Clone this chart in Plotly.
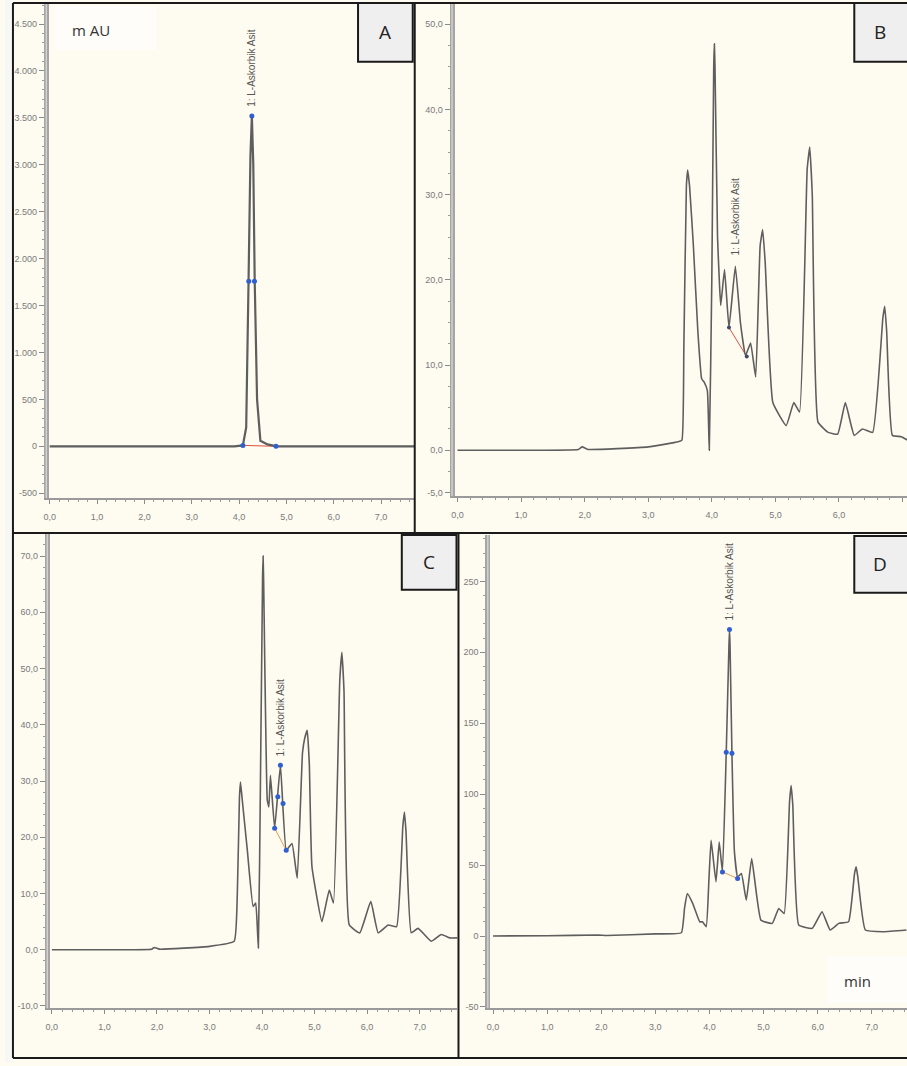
import plotly.graph_objects as go

W, H = 907, 1066

# ---------------- data ----------------
# Panel A (mAU)
tA = [0, 3.9, 4.08, 4.15, 4.20, 4.24, 4.27, 4.30, 4.33, 4.38, 4.45, 4.6, 4.8, 7.75]
vA = [0, 0, 10, 200, 1760, 3100, 3520, 3000, 1760, 500, 60, 20, 0, 0]
mkA_t = [4.27, 4.205, 4.325, 4.08, 4.78]
mkA_v = [3520, 1760, 1760, 10, 0]
blA_t = [4.08, 4.78]
blA_v = [10, 0]

# Panel B
tB = [0, 1.0, 1.9, 1.96, 2.05, 3.0, 3.47, 3.53, 3.56, 3.60, 3.62, 3.65, 3.71, 3.78, 3.84, 3.88, 3.93, 3.96,
      4.0, 4.03, 4.04, 4.05, 4.09, 4.12, 4.14, 4.20, 4.27, 4.37, 4.45, 4.53, 4.61, 4.69, 4.76, 4.80, 4.84, 4.96, 5.17,
      5.29, 5.38, 5.50, 5.54, 5.58, 5.67, 5.83, 5.98, 6.10, 6.24, 6.37, 6.53, 6.69, 6.72, 6.75, 6.84, 6.98, 7.08]
vB = [0, 0, 0.1, 0.4, 0.1, 0.4, 1.0, 1.2, 12, 31, 32.9, 31, 24, 14, 8.4, 8.0, 7.0, 0,
      20, 45, 47.7, 45, 25, 19.6, 17.0, 21.2, 14.4, 21.6, 15, 11.1, 12.6, 8.6, 24, 25.9, 22, 5.6, 2.9,
      5.6, 4.5, 33, 35.6, 30, 3.3, 2.1, 1.9, 5.6, 1.75, 2.5, 2.1, 15.5, 16.9, 14, 1.75, 1.6, 1.2]
blB_t = [4.27, 4.55]
blB_v = [14.4, 11.0]

# Panel C
tC = [0, 1.0, 1.9, 1.95, 2.05, 3.0, 3.47, 3.53, 3.57, 3.59, 3.62, 3.72, 3.83, 3.88, 3.93, 3.97, 4.01, 4.02, 4.03,
      4.10, 4.13, 4.16, 4.24, 4.35, 4.46, 4.57, 4.67, 4.77, 4.81, 4.86, 4.90, 4.95, 5.14, 5.28, 5.36,
      5.48, 5.52, 5.56, 5.66, 5.86, 6.07, 6.21, 6.40, 6.56, 6.68, 6.71, 6.74, 6.84, 6.97, 7.22, 7.41, 7.57, 7.72]
vC = [0, 0, 0.1, 0.4, 0.1, 0.6, 1.5, 10, 27, 29.8, 27, 17.7, 7.7, 8.3, 0.3, 30, 66, 70, 66,
      26.6, 25.4, 31, 21.6, 32.8, 17.7, 18.9, 12.7, 35, 37.5, 39, 33, 14.8, 5, 10.6, 8.3,
      48, 52.9, 46, 4.4, 3.0, 8.6, 3.0, 4.4, 4.1, 22, 24.5, 21, 3.0, 3.8, 1.5, 2.7, 2.1, 2.1]
mkC_t = [4.24, 4.35, 4.30, 4.40, 4.46]
mkC_v = [21.6, 32.8, 27.2, 26.0, 17.7]
blC_t = [4.24, 4.46]
blC_v = [21.6, 17.7]

# Panel D
tD = [0, 1.0, 1.95, 2.1, 3.0, 3.48, 3.54, 3.59, 3.69, 3.82, 3.87, 3.94, 3.99, 4.03, 4.12,
      4.18, 4.24, 4.31, 4.36, 4.37, 4.38, 4.415, 4.46, 4.52, 4.59, 4.68, 4.78, 4.95, 5.16, 5.28, 5.38,
      5.48, 5.51, 5.54, 5.65, 5.90, 6.08, 6.23, 6.39, 6.57, 6.68, 6.71, 6.74, 6.88, 7.21, 7.64]
vD = [0, 0.2, 0.7, 0.4, 1.5, 2.3, 20, 30, 23, 10, 10, 6.6, 40, 67.4, 38.2,
      66.3, 45.2, 129.5, 205, 216, 205, 128.8, 60, 41.7, 44, 25.3, 54.6, 11.2, 8.9, 19.4, 15.9,
      95, 106, 92, 7.7, 5.4, 17.1, 4.2, 8.9, 10, 44, 48.7, 42, 4.2, 3.0, 4.2]
mkD_t = [4.37, 4.31, 4.415, 4.24, 4.52]
mkD_v = [216, 129.5, 128.8, 45.2, 40.5]
blD_t = [4.24, 4.52]
blD_v = [45.2, 40.5]

x_ticks = [0, 1, 2, 3, 4, 5, 6, 7]
x_ticktext = ["0,0", "1,0", "2,0", "3,0", "4,0", "5,0", "6,0", "7,0"]
yA_ticks = [-500, 0, 500, 1000, 1500, 2000, 2500, 3000, 3500, 4000, 4500]
yA_text = ["-500", "0", "500", "1.000", "1.500", "2.000", "2.500", "3.000", "3.500", "4.000", "4.500"]
yB_ticks = [-5, 0, 10, 20, 30, 40, 50]
yB_text = ["-5,0", "0,0", "10,0", "20,0", "30,0", "40,0", "50,0"]
yC_ticks = [-10, 0, 10, 20, 30, 40, 50, 60, 70]
yC_text = ["-10,0", "0,0", "10,0", "20,0", "30,0", "40,0", "50,0", "60,0", "70,0"]
yD_ticks = [-50, 0, 50, 100, 150, 200, 250]
yD_text = ["-50", "0", "50", "100", "150", "200", "250"]

peak_label = "1: L-Askorbik Asit"
panel_letters = ["A", "B", "C", "D"]

# ---------------- figure ----------------
def px(x):
    return x / W

def py(y):
    return 1 - y / H

LINE = "#5e5e5e"
BLUE = "#2f5fd0"
RED = "#e0503c"
ORANGE = "#e89a4a"
BG = "#fefbf0"

fig = go.Figure()

panels = [
    ("x", "y", tA, vA, mkA_t, mkA_v, blA_t, blA_v, RED),
    ("x2", "y2", tB, vB, blB_t, blB_v, blB_t, blB_v, RED),
    ("x3", "y3", tC, vC, mkC_t, mkC_v, blC_t, blC_v, ORANGE),
    ("x4", "y4", tD, vD, mkD_t, mkD_v, blD_t, blD_v, ORANGE),
]
for i, (xa, ya, t, v, mt, mv, bt, bv, bcol) in enumerate(panels):
    fig.add_trace(go.Scatter(x=bt, y=bv, xaxis=xa, yaxis=ya, mode="lines",
                             line=dict(color=bcol, width=1), hoverinfo="skip", showlegend=False))
    fig.add_trace(go.Scatter(x=t, y=v, xaxis=xa, yaxis=ya, mode="lines",
                             line=dict(color=LINE, width=1.6 if i else 2.2,
                                       shape="spline" if i else "linear", smoothing=0.35),
                             showlegend=False))
    fig.add_trace(go.Scatter(x=mt, y=mv, xaxis=xa, yaxis=ya, mode="markers",
                             marker=dict(color=BLUE if i != 1 else "#404a70", size=5 if i != 1 else 4),
                             showlegend=False))

tickfont = dict(family="Liberation Sans, Arial, sans-serif", size=9, color="#7a7a7a")

def xax(domain, rng):
    return dict(domain=domain, range=rng, tickvals=x_ticks, ticktext=x_ticktext,
                showgrid=False, zeroline=False, showline=True, linecolor="#9a9a9a", linewidth=2,
                ticks="outside", ticklen=4, tickcolor="#8a8a8a", tickfont=tickfont,
                ticklabelstandoff=5,
                minor=dict(ticks="outside", dtick=0.2, ticklen=2, tickcolor="#9a9a9a"),
                fixedrange=True)

def yax(domain, rng, tv, tt, anchor, mdt):
    return dict(domain=domain, range=rng, tickvals=tv, ticktext=tt, anchor=anchor,
                showgrid=False, zeroline=False, showline=True, linecolor="#a5a5a5", linewidth=5,
                ticks="outside", ticklen=5, tickcolor="#8a8a8a", tickfont=tickfont,
                minor=dict(ticks="outside", dtick=mdt, ticklen=2, tickcolor="#9a9a9a"),
                fixedrange=True)

fig.update_layout(
    width=W, height=H, margin=dict(l=0, r=0, t=0, b=0),
    paper_bgcolor=BG, plot_bgcolor=BG,
    xaxis=dict(xax([px(44), px(412)], [-0.02, 7.71]), anchor="y"),
    yaxis=yax([py(500), py(3)], [-552, 4724], yA_ticks, yA_text, "x", 100),
    xaxis2=dict(xax([px(452), 1.0], [-0.047, 7.07]), anchor="y2"),
    yaxis2=yax([py(498), py(3)], [-5.38, 52.5], yB_ticks, yB_text, "x2", 2.5),
    xaxis3=dict(xax([px(45), px(455)], [-0.04, 7.72]), anchor="y3"),
    yaxis3=yax([py(1012), py(535)], [-10.4, 74.1], yC_ticks, yC_text, "x3", 2),
    xaxis4=dict(xax([px(488), 1.0], [-0.05, 7.65]), anchor="y4"),
    yaxis4=yax([py(1012), py(537)], [-50.9, 282.7], yD_ticks, yD_text, "x4", 10),
)

shapes = []
shapes.append(dict(type="rect", xref="paper", yref="paper", x0=0, x1=px(8), y0=0, y1=1,
                   fillcolor="#f7f7f5", line=dict(width=0), layer="above"))
shapes.append(dict(type="rect", xref="paper", yref="paper", x0=px(50), x1=px(152), y0=py(50), y1=py(6),
                   fillcolor="rgba(255,255,255,0.6)", line=dict(width=0), layer="below"))
shapes.append(dict(type="rect", xref="paper", yref="paper", x0=px(827), x1=1, y0=py(1007), y1=py(960),
                   fillcolor="rgba(255,255,255,0.6)", line=dict(width=0), layer="below"))
# lighter centre stripe of the double y-axis lines
for xline, ytop, ybot in [(41.5, 3, 500), (449.5, 3, 498), (42.5, 535, 1012), (485.5, 537, 1012)]:
    shapes.append(dict(type="line", xref="paper", yref="paper", x0=px(xline), x1=px(xline),
                       y0=py(ybot), y1=py(ytop), line=dict(color="#dcdcd6", width=1.2), layer="above"))
bk = dict(color="#1a1a1a", width=2)
for (x0, y0, x1, y1) in [(8, 3, 907, 3), (8, 3, 8, 1062), (412, 3, 412, 535),
                         (8, 535, 907, 535), (456, 535, 456, 1062), (8, 1062, 907, 1062)]:
    shapes.append(dict(type="line", xref="paper", yref="paper", x0=px(x0), x1=px(x1),
                       y0=py(y0), y1=py(y1), line=bk, layer="above"))
boxes = [(355, 3, 410, 62), (854, 3, 909, 62), (399, 537, 454, 592), (854, 538, 909, 595)]
annotations = []
for (x0, y0, x1, y1), letter in zip(boxes, panel_letters):
    shapes.append(dict(type="rect", xref="paper", yref="paper", x0=px(x0), x1=px(x1),
                       y0=py(y1), y1=py(y0), fillcolor="#efefef", line=dict(color="#1a1a1a", width=2),
                       layer="above"))
    annotations.append(dict(xref="paper", yref="paper",
                            x=px((x0 + x1) / 2 if letter in "AC" else 880),
                            y=py((y0 + y1) / 2), text=letter, showarrow=False,
                            xanchor="center", yanchor="middle",
                            font=dict(family="Open Sans, Liberation Sans, sans-serif", size=19, color="#222222")))
fig.update_layout(shapes=shapes)

annotations.append(dict(xref="paper", yref="paper", x=px(65), y=py(30), text="m AU", showarrow=False,
                        xanchor="left", yanchor="middle",
                        font=dict(family="Open Sans, Liberation Sans, sans-serif", size=15, color="#333333")))
annotations.append(dict(xref="paper", yref="paper", x=px(842), y=py(985), text="min", showarrow=False,
                        xanchor="left", yanchor="middle",
                        font=dict(family="Open Sans, Liberation Sans, sans-serif", size=15, color="#333333")))

lab_font = dict(family="Liberation Sans, Arial, sans-serif", size=10, color="#555555")
for xa, ya, xt, yb in [("x", "y", 4.27, 3600), ("x2", "y2", 4.37, 22.6),
                       ("x3", "y3", 4.35, 34.0), ("x4", "y4", 4.37, 221)]:
    annotations.append(dict(xref=xa, yref=ya, x=xt, y=yb, text=peak_label, textangle=-90,
                            showarrow=False, xanchor="center", yanchor="bottom", font=lab_font))
fig.update_layout(annotations=annotations)

fig.write_html("out.html", config={"displayModeBar": False},
               post_script="document.body.style.margin='0px';document.body.style.overflow='hidden';")
